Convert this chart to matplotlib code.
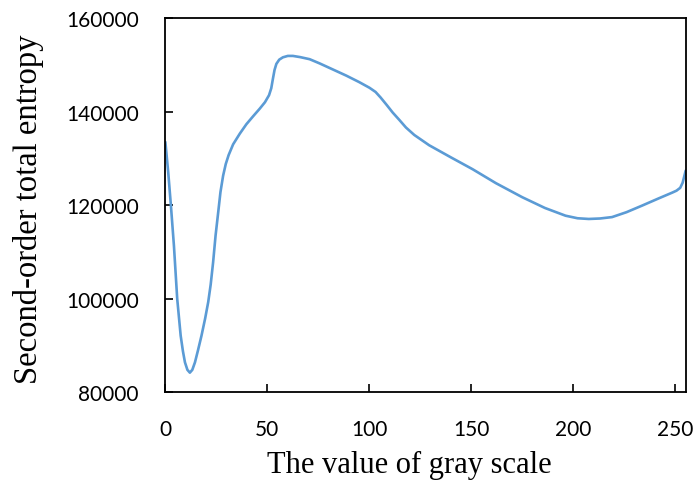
import matplotlib
matplotlib.use("Agg")
import matplotlib.pyplot as plt

# gray value vs. second-order total entropy
gray = [0, 1.4, 2.7, 4.2, 5.8, 7.5, 8.6, 9.6, 10.8, 12.0, 13.2, 14.5, 16.0,
        17.7, 19.5, 21.0, 22.2, 23.4, 24.6, 25.9, 27.0, 28.3, 29.6, 31.0,
        33.2, 36.5, 39.7, 43.0, 46.2, 48.8, 50.8, 51.9, 52.7, 53.5, 54.4,
        55.8, 57.6, 60.0, 62.5, 66.0, 70.7, 75.6, 79.6, 88.6, 95.0, 100.0,
        103.0, 105.5, 108.5, 111.4, 114.7, 117.9, 122.0, 129.3, 140.0, 150.5,
        162.0, 174.9, 186.0, 196.1, 202.0, 207.5, 213.0, 218.9, 226.0, 233.6,
        241.5, 248.5, 250.5, 252.3, 253.5, 254.2, 255.0]
entropy = [133500, 127000, 120000, 111300, 100000, 92100, 88800, 86400, 84800,
           84200, 84800, 86400, 89000, 92100, 95800, 99300, 103000, 107800,
           113500, 118500, 122800, 126300, 128800, 130700, 133000, 135300,
           137300, 139000, 140600, 142000, 143500, 145000, 147000, 148900,
           150200, 151100, 151600, 151900, 151900, 151650, 151200, 150300,
           149500, 147700, 146300, 145100, 144200, 143000, 141400, 139800,
           138200, 136600, 135000, 132800, 130200, 127700, 124700, 121700,
           119400, 117750, 117200, 117050, 117150, 117450, 118500, 119900,
           121400, 122700, 123100, 123700, 124800, 126000, 127400]

x_ticks = [0, 50, 100, 150, 200, 250]
y_ticks = [80000, 100000, 120000, 140000, 160000]

fig = plt.figure(figsize=(6.96, 4.89), dpi=100)
ax = fig.add_axes([0.2376, 0.1957, 0.7476, 0.7654])

ax.plot(gray, entropy, color="#5B9BD5", linewidth=1.9,
        solid_capstyle="round", solid_joinstyle="round")

ax.set_xlim(0, 255)
ax.set_ylim(80000, 160000)
ax.set_xticks(x_ticks)
ax.set_yticks(y_ticks)
ax.set_xticklabels([str(v) for v in x_ticks], family="Lato", fontsize=15)
ax.set_yticklabels([str(v) for v in y_ticks], family="Lato", fontsize=15)
ax.tick_params(direction="in", length=6, width=1.2, pad=19, color="black")

for s in ax.spines.values():
    s.set_linewidth(1.3)
    s.set_color("black")

ax.set_xlabel("The value of gray scale", family="Liberation Serif", fontsize=22)
ax.set_ylabel("Second-order total entropy", family="Liberation Serif", fontsize=23.5)
ax.xaxis.set_label_coords(0.468, -0.155)
ax.yaxis.set_label_coords(-0.234, 0.492)

fig.savefig("out.png", dpi=100)
